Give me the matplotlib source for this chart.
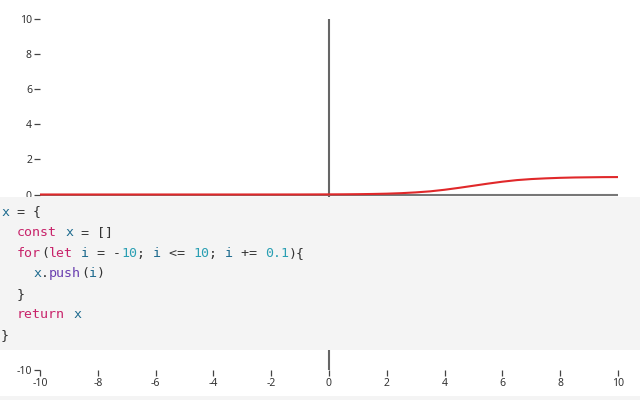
import matplotlib
matplotlib.use("Agg")
import matplotlib.pyplot as plt
from matplotlib.patches import Rectangle

# ---- data ----
x_vals = [-10, -9, -8, -7, -6, -5, -4, -3, -2, -1, 0, 0.5, 1, 1.5, 2, 2.5, 3, 3.5,
          4, 4.5, 5, 5.5, 6, 6.5, 7, 7.5, 8, 8.5, 9, 9.5, 10]
y_vals = [0.0, 0.0, 0.0, 0.0, 0.0, 0.0, 0.0, 0.0, 0.001, 0.002, 0.007, 0.011, 0.018,
          0.03, 0.047, 0.076, 0.12, 0.18, 0.27, 0.38, 0.5, 0.62, 0.73, 0.82, 0.88,
          0.92, 0.95, 0.97, 0.98, 0.99, 0.993]
x_ticks = [-10, -8, -6, -4, -2, 0, 2, 4, 6, 8, 10]
y_ticks = [-10, -8, -6, -4, -2, 0, 2, 4, 6, 8, 10]
# labels of y ticks hidden behind the code block in the reference
y_tick_labels = ["-10", "", "", "", "", "0", "2", "4", "6", "8", "10"]

code_lines = [
    [("x", "#1d6a8e"), (" = {", "#333333")],
    [("  ", "#333333"), ("const", "#c8236a"), (" ", "#333333"), ("x", "#1d6a8e"), (" = []", "#333333")],
    [("  ", "#333333"), ("for", "#c8236a"), ("(", "#333333"), ("let", "#c8236a"), (" ", "#333333"),
     ("i", "#1d6a8e"), (" = -", "#333333"), ("10", "#2a9fb3"), ("; ", "#333333"), ("i", "#1d6a8e"),
     (" <= ", "#333333"), ("10", "#2a9fb3"), ("; ", "#333333"), ("i", "#1d6a8e"), (" += ", "#333333"),
     ("0.1", "#2a9fb3"), ("){", "#333333")],
    [("    ", "#333333"), ("x", "#1d6a8e"), (".", "#333333"), ("push", "#6a3fb0"), ("(", "#333333"),
     ("i", "#1d6a8e"), (")", "#333333")],
    [("  }", "#333333")],
    [("  ", "#333333"), ("return", "#c8236a"), (" ", "#333333"), ("x", "#1d6a8e")],
    [("}", "#333333")],
]

W, H = 640, 400
fig = plt.figure(figsize=(W / 100, H / 100), dpi=100)
fig.patch.set_facecolor("white")

ax = fig.add_axes([40 / W, (H - 370) / H, 578 / W, 351 / H])
ax.set_xlim(-10, 10)
ax.set_ylim(-10, 10)
for s in ax.spines.values():
    s.set_visible(False)

ax.plot([0, 0], [-10, 10], color="#666666", lw=1.5, zorder=1)
ax.plot([-10, 10], [0, 0], color="#777777", lw=1.5, zorder=1)
ax.plot(x_vals, y_vals, color="#e0282a", lw=1.5, zorder=2)

ax.set_xticks(x_ticks)
ax.set_xticklabels([str(t) for t in x_ticks])
ax.set_yticks(y_ticks)
ax.set_yticklabels(y_tick_labels)
ax.tick_params(axis="both", direction="out", length=4.3, width=0.9, color="#444444",
               labelcolor="#333333", labelsize=7.5, pad=1.5)
for lab in ax.get_xticklabels() + ax.get_yticklabels():
    lab.set_family("Noto Sans")

# code block overlay
fig.add_artist(Rectangle((0, (H - 350) / H), 1, 153 / H, transform=fig.transFigure,
                         facecolor="#f4f4f4", edgecolor="none", zorder=5))
fig.add_artist(Rectangle((0, 0), 1, 4 / H, transform=fig.transFigure,
                         facecolor="#f4f4f4", edgecolor="none", zorder=5))

char_w = 8.0
line_y0 = 212.0
line_h = 20.6
for li, tokens in enumerate(code_lines):
    col = 0
    ypix = line_y0 + li * line_h
    for txt, colr in tokens:
        if txt.strip():
            fig.text((1 + col * char_w) / W, (H - ypix) / H, txt, color=colr,
                     family="DejaVu Sans Mono", fontsize=9.57, va="center", ha="left",
                     zorder=6)
        col += len(txt)

fig.savefig("out.png", dpi=100)
